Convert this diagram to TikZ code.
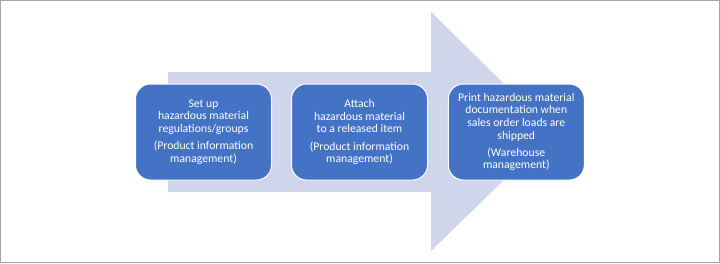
\documentclass[tikz,border=0pt]{standalone}
\usepackage{fontspec}
\setmainfont{Carlito}
\definecolor{arrowfill}{HTML}{CFD5EA}
\definecolor{boxfill}{HTML}{4472C4}
\definecolor{framegray}{HTML}{A6A6A6}
\begin{document}
\begin{tikzpicture}[x=1pt,y=-1pt,
  stepbox/.style={draw=white, line width=1pt, fill=boxfill, rounded corners=15pt,
    minimum width=136pt, minimum height=96pt, inner sep=0pt, text=white,
    align=center, font=\fontsize{11.7}{12.6}\selectfont},
  ]
\useasboundingbox (0,0) rectangle (720,263);
\draw[framegray, line width=1pt] (0.5,0.5) rectangle (719.5,262.5);
\fill[arrowfill] (168,72) -- (431,72) -- (431,12) -- (553,132) -- (431,251) -- (431,192) -- (168,192) -- cycle;
\node[stepbox] (s1) at (203.5,132) {Set up\\hazardous material\\regulations/groups\\[4.7pt](Product information\\management)};
\node[stepbox] (s2) at (359.5,132) {Attach\\hazardous material\\to a released item\\[4.7pt](Product information\\management)};
\node[stepbox] (s3) at (516.3,132) {Print hazardous material\\documentation when\\sales order loads are\\shipped\\[4.7pt](Warehouse\\management)};
\end{tikzpicture}
\end{document}
